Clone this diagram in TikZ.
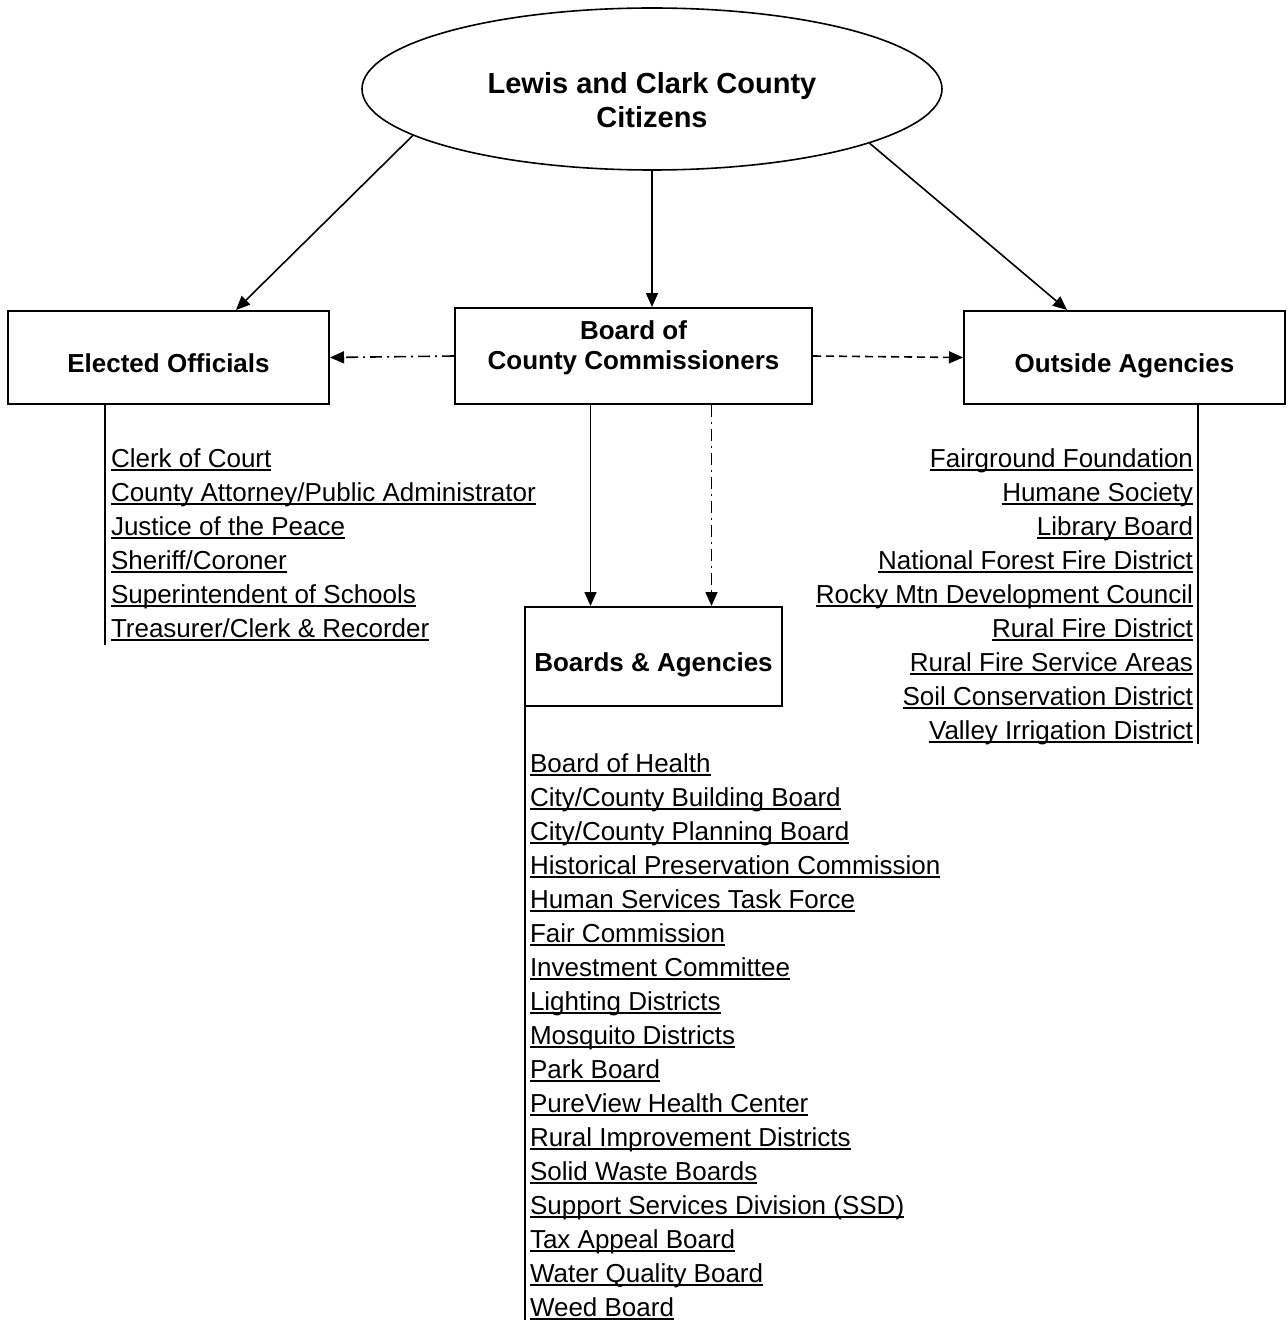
\documentclass[tikz,border=0pt]{standalone}
\usepackage{fontspec}
\setmainfont{Liberation Sans}
\usetikzlibrary{arrows.meta, positioning, shapes.geometric, calc}

\newcommand{\linkline}[1]{\setbox0=\hbox{#1}\rlap{\rule[-1.9pt]{\wd0}{0.9pt}}\box0}

\begin{document}
\begin{tikzpicture}[
    x=0.5pt, y=-0.5pt, >={Triangle[length=7pt,width=6pt]},
    line width=0.8pt, node distance=0pt,
    box/.style={draw, rectangle, line width=1pt, font=\fontsize{13}{15}\selectfont\bfseries, align=center, inner sep=2pt, text height=14.5pt, text depth=0pt},
    boxtext/.style={font=\fontsize{13}{15}\selectfont\bfseries, align=center},
    item/.style={inner sep=0pt, outer sep=0pt, font=\fontsize{13}{17}\selectfont, text height=12pt, text depth=5pt},
    dashdot/.style={dash pattern=on 6pt off 2.5pt on 1pt off 2.5pt},
    dashonly/.style={dash pattern=on 4pt off 2.5pt},
]
    \useasboundingbox (0,0) rectangle (1286,1322);

    % Citizens and the three main boxes
    \node[draw, ellipse, line width=0.8pt, minimum width=290pt, minimum height=81pt, inner sep=0pt,
          label={[font=\fontsize{14.5}{17}\selectfont\bfseries, align=center, yshift=-5.5pt]center:Lewis and Clark County\\Citizens}] (cit) at (652,89) {};
    \node[box, minimum width=160.5pt, minimum height=46.5pt] (elec) at (168.5,357.5) {Elected Officials};
    \node[draw, line width=1pt, minimum width=178.5pt, minimum height=48pt,
          label={[boxtext, yshift=4pt]center:Board of\\County Commissioners}] (bocc) at (633.5,356) {};
    \node[box, minimum width=160.5pt, minimum height=46.5pt] (outs) at (1124.5,357.5) {Outside Agencies};
    \node[box, minimum width=128.5pt, minimum height=49.5pt] (boards) at (653.5,656.5) {Boards \& Agencies};

    % Arrows
    \draw[->] (cit.191) -- ($(elec.north west)+(229,0)$);
    \draw[->] (cit.south) -- (cit.south |- bocc.north);
    \draw[->] (cit.346) -- ($(outs.north west)+(104,0)$);
    \draw[->, dashdot] (bocc.west) -- (elec.east);
    \draw[->, dashonly] (bocc.east) -- (outs.west);
    \coordinate (dnA) at ($(bocc.south)+(-43,0)$);
    \coordinate (dnB) at ($(bocc.south)+(78,0)$);
    \draw[->] (dnA) -- (dnA |- boards.north);
    \draw[->, dashdot] (dnB) -- (dnB |- boards.north);

    % Elected officials
    \node[item, anchor=base west] (eo1) at (111,467) {\linkline{Clerk of Court}};
    \node[item, below=of eo1.south west, anchor=north west] (eo2) {\linkline{County Attorney/Public Administrator}};
    \node[item, below=of eo2.south west, anchor=north west] (eo3) {\linkline{Justice of the Peace}};
    \node[item, below=of eo3.south west, anchor=north west] (eo4) {\linkline{Sheriff/Coroner}};
    \node[item, below=of eo4.south west, anchor=north west] (eo5) {\linkline{Superintendent of Schools}};
    \node[item, below=of eo5.south west, anchor=north west] (eo6) {\linkline{Treasurer/Clerk \& Recorder}};
    \coordinate (lineL) at (105,645);
    \draw (elec.south -| lineL) -- (lineL);

    % Outside agencies
    \node[item, anchor=base east] (oa1) at (1193,467) {\linkline{Fairground Foundation}};
    \node[item, below=of oa1.south east, anchor=north east] (oa2) {\linkline{Humane Society}};
    \node[item, below=of oa2.south east, anchor=north east] (oa3) {\linkline{Library Board}};
    \node[item, below=of oa3.south east, anchor=north east] (oa4) {\linkline{National Forest Fire District}};
    \node[item, below=of oa4.south east, anchor=north east] (oa5) {\linkline{Rocky Mtn Development Council}};
    \node[item, below=of oa5.south east, anchor=north east] (oa6) {\linkline{Rural Fire District}};
    \node[item, below=of oa6.south east, anchor=north east] (oa7) {\linkline{Rural Fire Service Areas}};
    \node[item, below=of oa7.south east, anchor=north east] (oa8) {\linkline{Soil Conservation District}};
    \node[item, below=of oa8.south east, anchor=north east] (oa9) {\linkline{Valley Irrigation District}};
    \coordinate (lineR) at (1198,744);
    \draw (outs.south -| lineR) -- (lineR);

    % Boards and agencies
    \node[item, anchor=base west] (ba1) at (530,772) {\linkline{Board of Health}};
    \node[item, below=of ba1.south west, anchor=north west] (ba2) {\linkline{City/County Building Board}};
    \node[item, below=of ba2.south west, anchor=north west] (ba3) {\linkline{City/County Planning Board}};
    \node[item, below=of ba3.south west, anchor=north west] (ba4) {\linkline{Historical Preservation Commission}};
    \node[item, below=of ba4.south west, anchor=north west] (ba5) {\linkline{Human Services Task Force}};
    \node[item, below=of ba5.south west, anchor=north west] (ba6) {\linkline{Fair Commission}};
    \node[item, below=of ba6.south west, anchor=north west] (ba7) {\linkline{Investment Committee}};
    \node[item, below=of ba7.south west, anchor=north west] (ba8) {\linkline{Lighting Districts}};
    \node[item, below=of ba8.south west, anchor=north west] (ba9) {\linkline{Mosquito Districts}};
    \node[item, below=of ba9.south west, anchor=north west] (ba10) {\linkline{Park Board}};
    \node[item, below=of ba10.south west, anchor=north west] (ba11) {\linkline{PureView Health Center}};
    \node[item, below=of ba11.south west, anchor=north west] (ba12) {\linkline{Rural Improvement Districts}};
    \node[item, below=of ba12.south west, anchor=north west] (ba13) {\linkline{Solid Waste Boards}};
    \node[item, below=of ba13.south west, anchor=north west] (ba14) {\linkline{Support Services Division (SSD)}};
    \node[item, below=of ba14.south west, anchor=north west] (ba15) {\linkline{Tax Appeal Board}};
    \node[item, below=of ba15.south west, anchor=north west] (ba16) {\linkline{Water Quality Board}};
    \node[item, below=of ba16.south west, anchor=north west] (ba17) {\linkline{Weed Board}};
    \coordinate (lineB) at (525,1320);
    \draw (boards.south -| lineB) -- (lineB);
\end{tikzpicture}
\end{document}
